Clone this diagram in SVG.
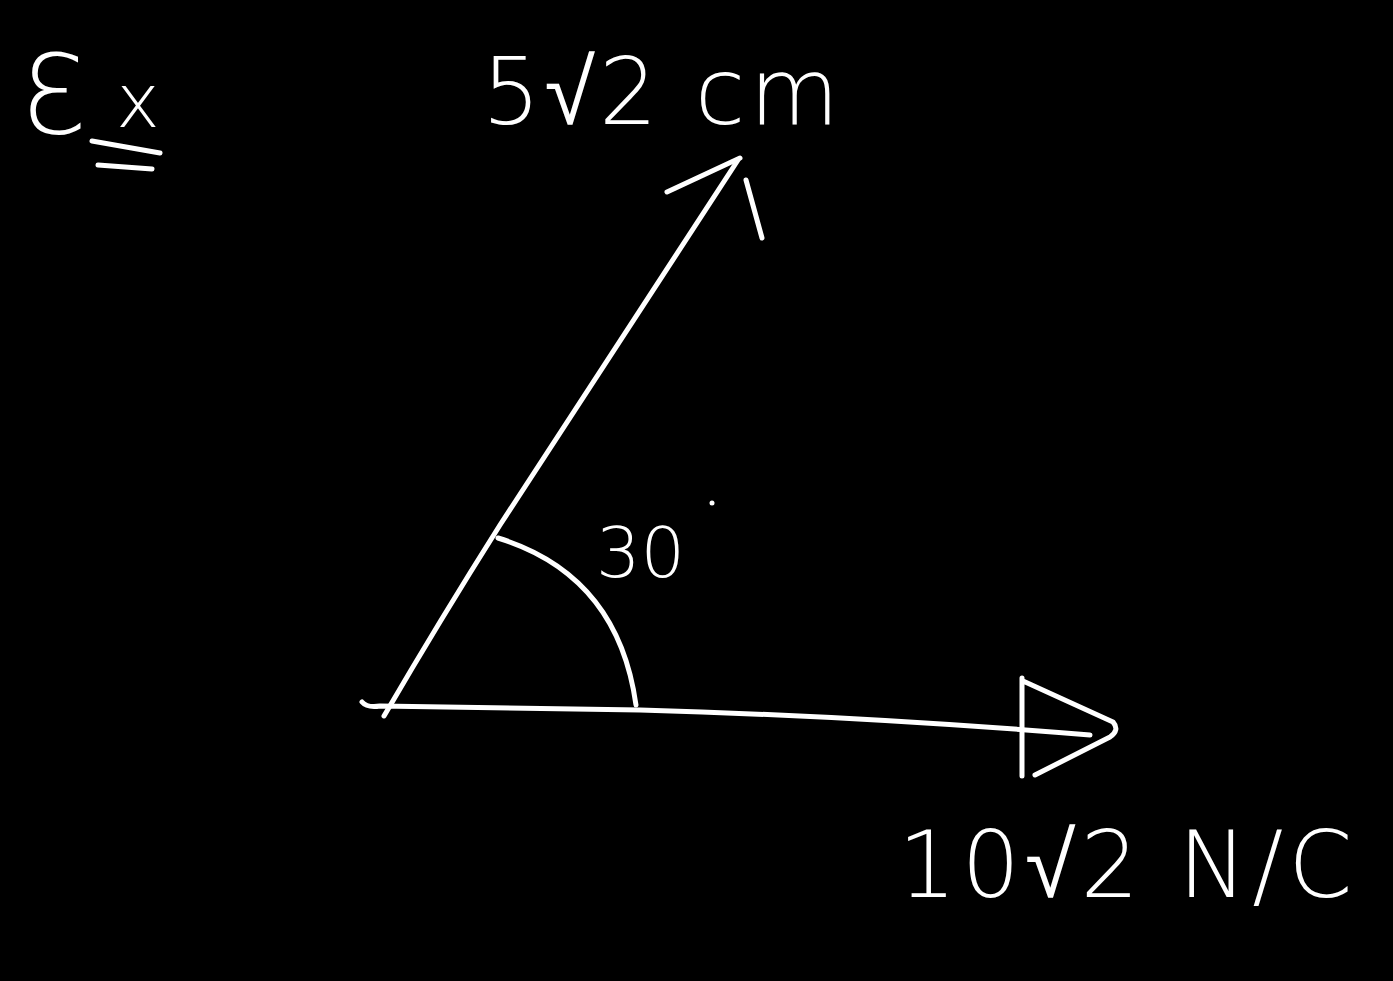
<svg xmlns="http://www.w3.org/2000/svg" width="1393" height="981" viewBox="0 0 1393 981">
<style>
.s{fill:none;stroke:#fff;stroke-width:5;stroke-linecap:round;stroke-linejoin:round}
.t{fill:#fff;font-family:"DejaVu Sans","Liberation Sans",sans-serif;font-weight:300}
</style>
<rect width="1393" height="981" fill="#000"/>
<g id="title">
<text class="t" x="22" y="133" font-size="110">Ɛ</text>
<text class="t" x="116" y="127" font-size="74">x</text>
<path class="s" d="M92,141 L160,153 M98,165 L152,169"/>
</g>
<g id="connectors">
<path id="vecA" class="s" d="M384,716 Q440,620 500,525 Q620,340 738,160"/>
<path class="s" d="M667,192 L740,158 M746,180 L762,238"/>
<path id="vecB" class="s" d="M362,702 Q367,708 380,706 L640,710 Q860,716 1090,735"/>
<path class="s" d="M1022,678 L1022,776 M1023,681 L1113,722 Q1120,730 1110,737 L1035,775"/>
<path id="arc" class="s" d="M498,538 Q618,575 636,705"/>
</g>
<g id="labelA">
<text class="t" x="482" y="124" font-size="92" letter-spacing="4">5√2 cm</text>
</g>
<g id="angle">
<text class="t" x="596" y="577" font-size="70">30</text>
<circle cx="712" cy="503" r="2.5" fill="#fff"/>
</g>
<g id="labelB">
<text class="t" x="898" y="897" font-size="92" letter-spacing="5">10√2 N/C</text>
</g>
</svg>
